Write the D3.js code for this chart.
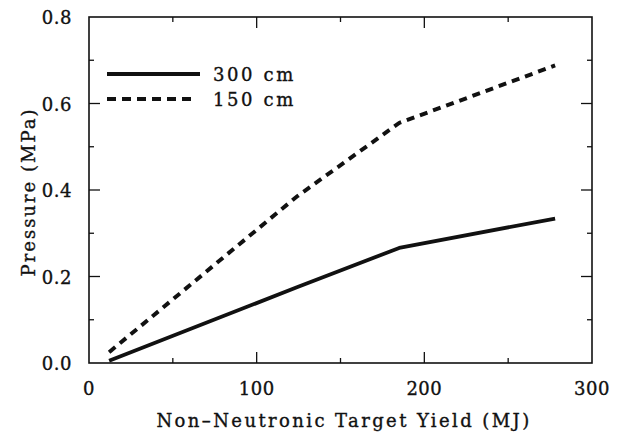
<!DOCTYPE html>
<html><head><meta charset="utf-8">
<script src="https://cdn.jsdelivr.net/npm/d3@7"></script>
<style>body{margin:0;background:#fff}svg{display:block}text{font-family:"DejaVu Serif",serif;fill:#111;stroke:#111;stroke-width:0.35}</style>
</head><body>
<script>
const yieldMJ = [12, 124, 185, 278];
const p300 = [0.005, 0.175, 0.266, 0.334];
const p150 = [0.025, 0.385, 0.555, 0.688];
const seriesNames = ["300 cm", "150 cm"];
const xTicks = [0, 100, 200, 300];
const yTicks = [0.0, 0.2, 0.4, 0.6, 0.8];

const W = 623, H = 445;
const m = {l: 89, r: 31, t: 17, b: 82};
const svg = d3.select("body").append("svg").attr("width", W).attr("height", H);
const x = d3.scaleLinear().domain([0, 300]).range([m.l, W - m.r]);
const y = d3.scaleLinear().domain([0, 0.8]).range([H - m.b, m.t]);

const g = svg.append("g");
g.append("rect").attr("x", x(0)).attr("y", y(0.8)).attr("width", x(300) - x(0)).attr("height", y(0) - y(0.8))
  .attr("fill", "none").attr("stroke", "#111").attr("stroke-width", 1.6);

const xMinor = d3.range(0, 301, 50), yMinor = d3.range(0, 0.81, 0.1);
xMinor.forEach(v => {
  const major = Math.abs(v % 100) < 1e-9;
  const len = major ? 11 : 5;
  if (v === 0 || v === 300) return;
  g.append("line").attr("x1", x(v)).attr("x2", x(v)).attr("y1", y(0)).attr("y2", y(0) - len).attr("stroke", "#111").attr("stroke-width", 1.3);
  g.append("line").attr("x1", x(v)).attr("x2", x(v)).attr("y1", y(0.8)).attr("y2", y(0.8) + len).attr("stroke", "#111").attr("stroke-width", 1.3);
});
yMinor.forEach((v, i) => {
  const major = i % 2 === 0;
  const len = major ? 11 : 5;
  if (i === 0 || i === 8) return;
  g.append("line").attr("x1", x(0)).attr("x2", x(0) + len).attr("y1", y(v)).attr("y2", y(v)).attr("stroke", "#111").attr("stroke-width", 1.3);
  g.append("line").attr("x1", x(300)).attr("x2", x(300) - len).attr("y1", y(v)).attr("y2", y(v)).attr("stroke", "#111").attr("stroke-width", 1.3);
});

g.selectAll(".xl").data(xTicks).join("text").attr("x", d => x(d)).attr("y", y(0) + 32)
  .attr("text-anchor", "middle").attr("font-size", 18).attr("letter-spacing", 0.5).text(d => d);
g.selectAll(".yl").data(yTicks).join("text").attr("x", x(0) - 17).attr("y", d => y(d) + 7)
  .attr("text-anchor", "end").attr("font-size", 18).attr("letter-spacing", 0.5).text(d => d3.format(".1f")(d));

svg.append("text").attr("x", 344).attr("y", 427).attr("text-anchor", "middle").attr("font-size", 18)
  .attr("letter-spacing", 2.4).text("Non\u2013Neutronic Target Yield (MJ)");
svg.append("text").attr("transform", `translate(35,192) rotate(-90)`).attr("text-anchor", "middle")
  .attr("font-size", 18).attr("letter-spacing", 2).text("Pressure (MPa)");

const line = d3.line().x(d => x(d[0])).y(d => y(d[1]));
const d300 = yieldMJ.map((v, i) => [v, p300[i]]);
const d150 = yieldMJ.map((v, i) => [v, p150[i]]);
g.append("path").attr("d", line(d300)).attr("fill", "none").attr("stroke", "#111").attr("stroke-width", 3.8).attr("stroke-linejoin", "round");
g.append("path").attr("d", line(d150)).attr("fill", "none").attr("stroke", "#111").attr("stroke-width", 4).attr("stroke-dasharray", "8,6");

const lg = svg.append("g");
lg.append("line").attr("x1", 107).attr("x2", 200).attr("y1", 74).attr("y2", 74).attr("stroke", "#111").attr("stroke-width", 3.8);
lg.append("line").attr("x1", 107).attr("x2", 196).attr("y1", 99).attr("y2", 99).attr("stroke", "#111").attr("stroke-width", 4).attr("stroke-dasharray", "9,6");
lg.append("text").attr("x", 213).attr("y", 81).attr("font-size", 18).attr("letter-spacing", 2.6).text(seriesNames[0]);
lg.append("text").attr("x", 213).attr("y", 106).attr("font-size", 18).attr("letter-spacing", 2.6).text(seriesNames[1]);
</script>
</body></html>
